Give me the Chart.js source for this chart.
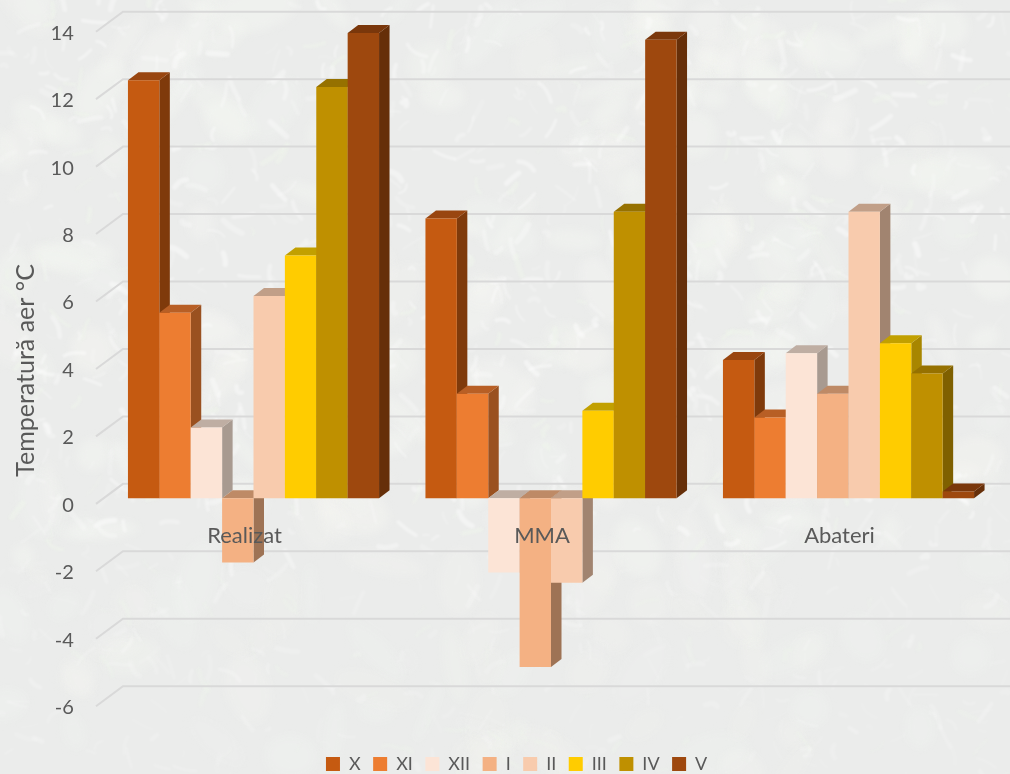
<!DOCTYPE html>
<html><head><meta charset="utf-8">
<style>html,body{margin:0;padding:0;background:#eeefee}#w{width:1010px;height:774px;position:relative}</style>
<script src="https://cdn.jsdelivr.net/npm/chart.js@4"></script>
</head><body><div id="w"><canvas id="c"></canvas></div>
<script>
const categories = ["Realizat","MMA","Abateri"];
const seriesNames = ["X","XI","XII","I","II","III","IV","V"];
const X   = [12.4, 8.3, 4.1];
const XI  = [5.5, 3.1, 2.4];
const XII = [2.1, -2.2, 4.3];
const I   = [-1.9, -5.0, 3.1];
const II  = [6.0, -2.5, 8.5];
const III = [7.2, 2.6, 4.6];
const IV  = [12.2, 8.5, 3.7];
const V   = [13.8, 13.6, 0.2];
const seriesValues = [X,XI,XII,I,II,III,IV,V];
const yTicks = [-6,-4,-2,0,2,4,6,8,10,12,14];
const frontColors = ["#C55A11","#ED7D31","#FCE4D6","#F4B183","#F8CBAD","#FFCC00","#BF9000","#9E480E"];
const sideColors  = ["#7F3A0B","#9A5120","#A89A90","#9E7355","#A18470","#A88600","#7F6000","#662F09"];
const topColors   = ["#994610","#B85F25","#BFAEA3","#BE8A66","#C19F88","#C2A000","#967100","#7A370B"];
const DX = 10.5, DY = 8;

const backdrop = {
  id:'backdrop',
  beforeDraw(chart){
    const ctx = chart.ctx; let s = 20231;
    const r = () => (s = (s*16807)%2147483647)/2147483647;
    ctx.save();
    ctx.fillStyle = '#ebeceb'; ctx.fillRect(0,0,chart.width,chart.height);
    ctx.lineCap='round';
    ctx.filter='blur(5px)';
    for(let i=0;i<260;i++){
      const x=r()*1010,y=r()*774;
      ctx.fillStyle=`rgba(246,248,243,${(y>560?.25:.45)*(.4+r()*.6)})`;
      ctx.beginPath();ctx.ellipse(x,y,10+r()*34,6+r()*18,r()*3.14,0,6.29);ctx.fill();
    }
    ctx.filter='blur(1.3px)';
    for(let i=0;i<1300;i++){
      const x=r()*1010,y=r()*774,a=r()*6.28,l=5+r()*20;
      const fade = y>560 ? .5 : 1;
      ctx.strokeStyle = i%7===0 ? `rgba(240,246,236,${.5*fade})` : `rgba(255,255,255,${(.12+r()*.33)*fade})`;
      ctx.lineWidth = 1.2+r()*4.5;
      ctx.beginPath();ctx.moveTo(x,y);
      ctx.quadraticCurveTo(x+Math.cos(a)*l*.5+r()*10-5,y+Math.sin(a)*l*.5+r()*10-5,x+Math.cos(a)*l,y+Math.sin(a)*l);
      ctx.stroke();
    }
    ctx.restore();
  }
};
const wallGrid = {
  id:'wallGrid',
  beforeDatasetsDraw(chart){
    const ctx=chart.ctx, y=chart.scales.y;
    ctx.save();ctx.strokeStyle='#d9d9d9';ctx.lineWidth=2;
    yTicks.forEach(v=>{
      const p=y.getPixelForValue(v);
      ctx.beginPath();ctx.moveTo(96,p+5.5);ctx.lineTo(123,p-14.5);ctx.lineTo(1010,p-14.5);ctx.stroke();
    });
    ctx.restore();
  }
};
const bars3d = {
  id:'bars3d',
  beforeDatasetDraw(){ return false; },
  afterDatasetsDraw(chart){
    const ctx=chart.ctx;
    seriesNames.forEach((n,i)=>{
      const meta=chart.getDatasetMeta(i);
      meta.data.forEach(el=>{
        const p=el.getProps(['x','y','base','width'],true);
        const l=p.x-p.width/2, r=p.x+p.width/2, t=Math.min(p.y,p.base), b=Math.max(p.y,p.base);
        ctx.fillStyle=sideColors[i];
        ctx.beginPath();ctx.moveTo(r,t);ctx.lineTo(r+DX,t-DY);ctx.lineTo(r+DX,b-DY);ctx.lineTo(r,b);ctx.closePath();ctx.fill();
        ctx.fillStyle=topColors[i];
        ctx.beginPath();ctx.moveTo(l,t);ctx.lineTo(l+DX,t-DY);ctx.lineTo(r+DX,t-DY);ctx.lineTo(r,t);ctx.closePath();ctx.fill();
        el.draw(ctx);
      });
    });
  }
};
const legendPlace = {
  id:'legendPlace',
  afterLayout(chart){
    const g=chart.legend, h=g.bottom-g.top;
    g.top=742.5;g.bottom=g.top+h;g.left+=18;g.right+=18;
  }
};
new Chart(document.getElementById('c'),{
  type:'bar',
  data:{labels:categories,datasets:seriesNames.map((n,i)=>({label:n,data:seriesValues[i],backgroundColor:frontColors[i],borderWidth:0}))},
  plugins:[backdrop,wallGrid,bars3d,legendPlace],
  options:{
    responsive:true,maintainAspectRatio:false,animation:false,
    barPercentage:1,categoryPercentage:.844,
    layout:{padding:{top:26.2,right:12.75,bottom:18.8,left:0}},
    plugins:{
      tooltip:{enabled:false},
      legend:{position:'bottom',labels:{boxWidth:14,boxHeight:14,padding:12.5,color:'#595959',font:{family:'Lato',size:18}}}
    },
    scales:{
      x:{position:{y:0},border:{display:false},grid:{display:false},
         ticks:{z:1,color:'#595959',font:{family:'Lato',size:22},padding:16,labelOffset:-9,maxRotation:0}},
      y:{min:-6.415,max:14,border:{display:false},grid:{display:false},
         afterFit(s){s.width=104.75;s.paddingTop=0;s.paddingBottom=0;},
         afterBuildTicks(s){s.ticks=yTicks.map(v=>({value:v}));},
         title:{display:true,text:'Temperatură aer °C',color:'#595959',font:{family:'Lato',size:25},padding:{top:11,bottom:0}},
         ticks:{color:'#595959',font:{family:'Lato',size:20},padding:23,labelOffset:7,autoSkip:false}}
    }
  }
});
</script></body></html>
